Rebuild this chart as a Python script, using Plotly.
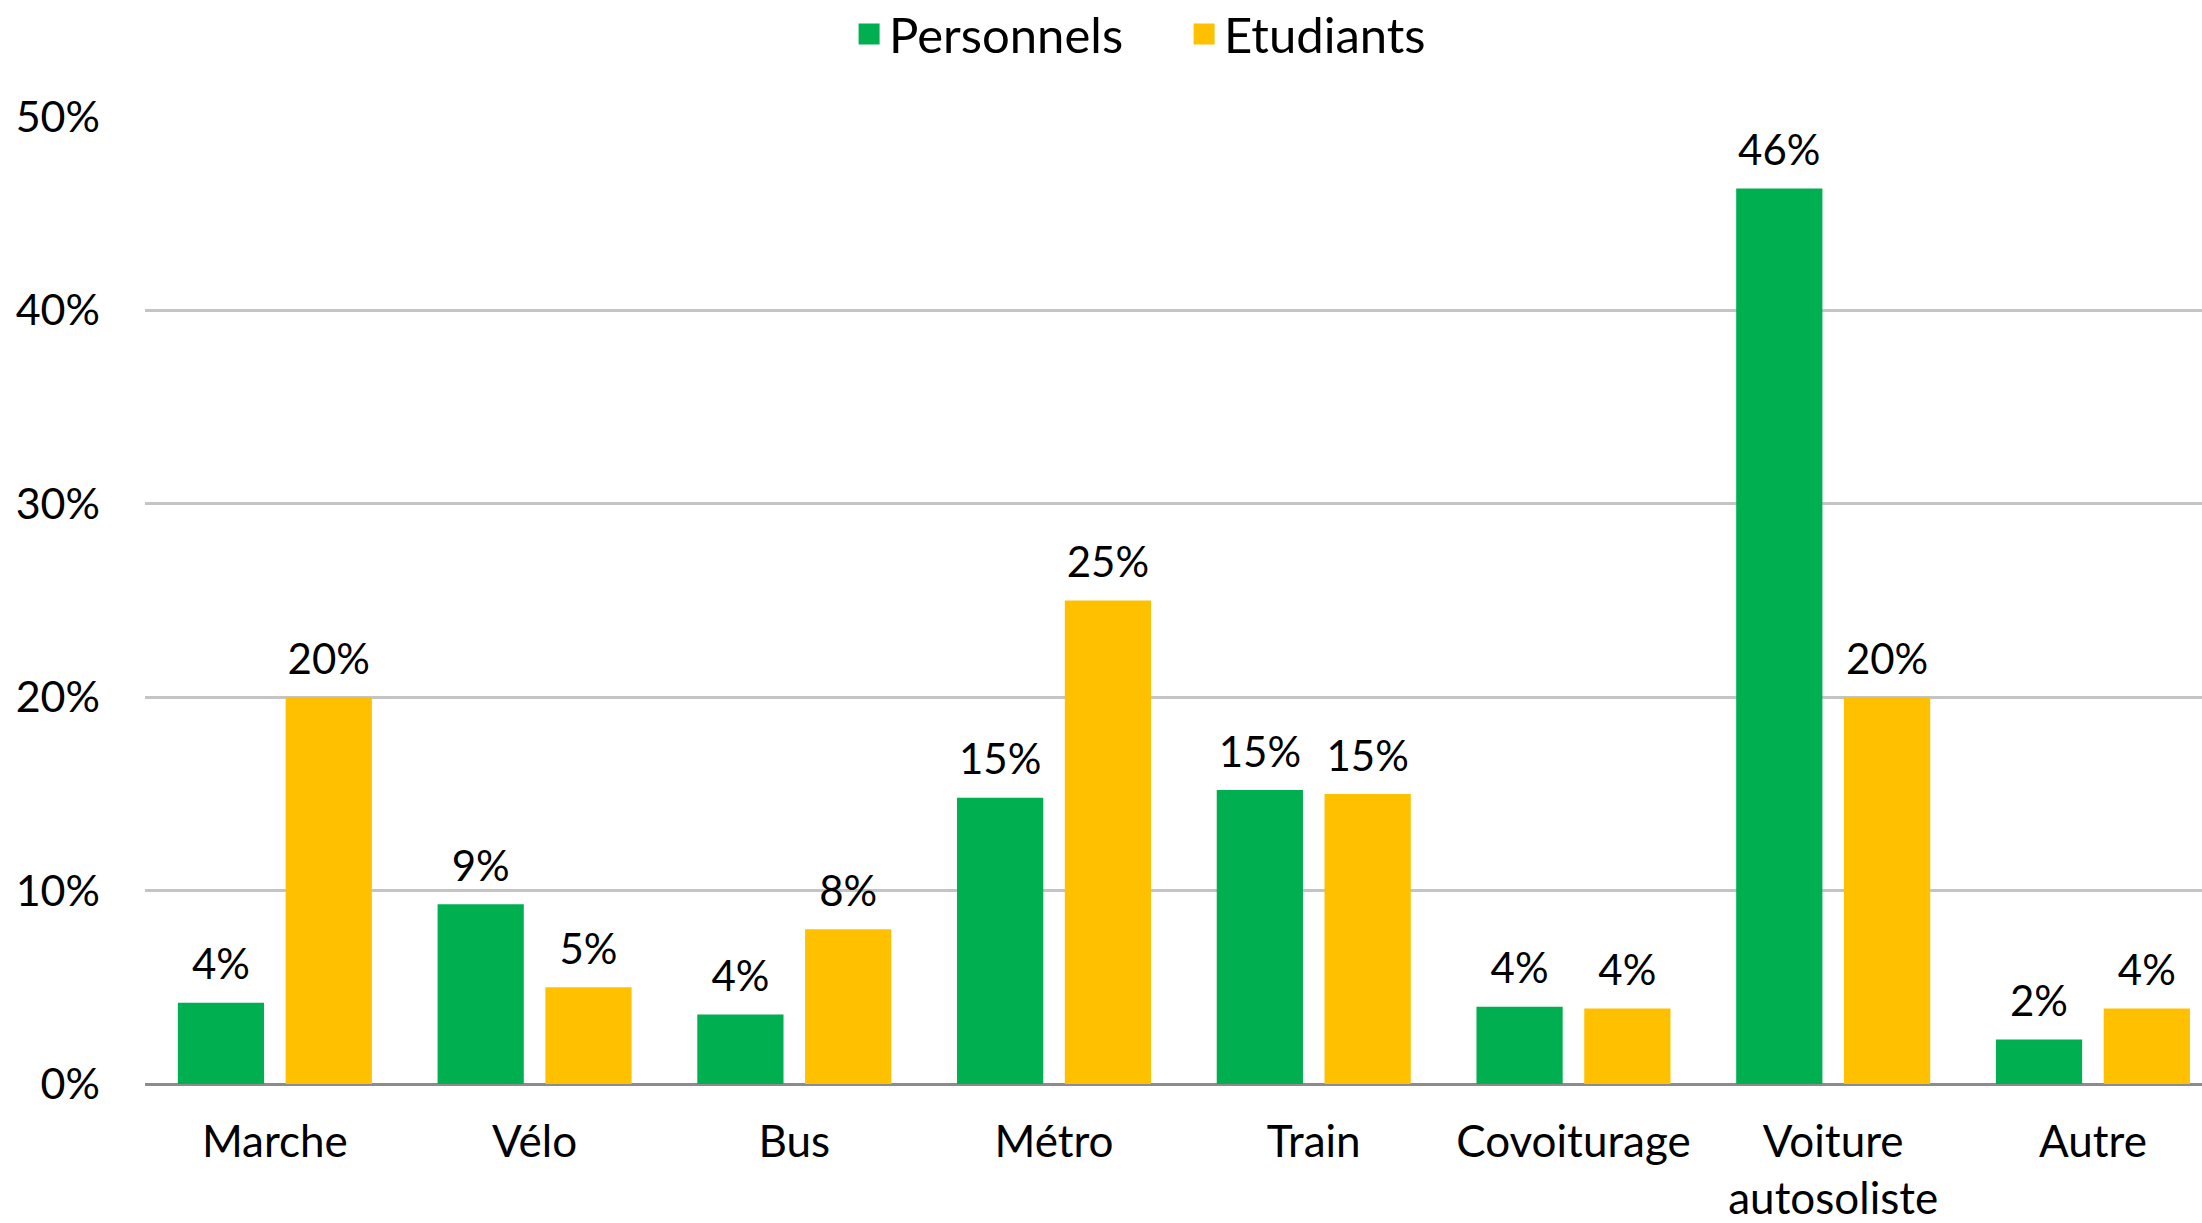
import plotly.graph_objects as go

categories = ["Marche", "Vélo", "Bus", "Métro", "Train", "Covoiturage", "Voiture<br>autosoliste", "Autre"]
personnels = [0.042, 0.093, 0.036, 0.148, 0.152, 0.040, 0.463, 0.023]
etudiants = [0.200, 0.050, 0.080, 0.250, 0.150, 0.039, 0.200, 0.039]
y_ticks = [0, 0.1, 0.2, 0.3, 0.4, 0.5]

FONT = "Lato"
GREEN = "#00B050"
YELLOW = "#FFC000"
BARGAP = 0.17

series = [("Personnels", personnels, GREEN), ("Etudiants", etudiants, YELLOW)]

fig = go.Figure()
for name, vals, col in series:
    fig.add_trace(go.Bar(
        name=name, x=categories, y=vals, offsetgroup=name,
        marker=dict(color=col, line=dict(width=0)),
        showlegend=False, hoverinfo="x+y+name",
    ))
for name, vals, col in series:
    # value labels above the bars
    fig.add_trace(go.Scatter(
        name=name, x=categories, y=vals, offsetgroup=name,
        mode="markers+text", showlegend=False, cliponaxis=False,
        marker=dict(size=19, color="rgba(0,0,0,0)"),
        texttemplate="%{y:.0%}", textposition="top center",
        textfont=dict(family=FONT, size=42, color="#000000"),
        hoverinfo="skip",
    ))
for name, vals, col in series:
    # legend entries (square swatches)
    fig.add_trace(go.Scatter(
        name=name, x=[None], y=[None], offsetgroup=name,
        mode="markers", showlegend=True,
        marker=dict(symbol="square", size=30, color=col, line=dict(color=col, width=5)),
        hoverinfo="skip",
    ))

fig.update_layout(
    width=2202, height=1223,
    margin=dict(l=145, r=0, t=117, b=139, autoexpand=False),
    plot_bgcolor="white", paper_bgcolor="white",
    barmode="group", bargap=BARGAP, bargroupgap=0.2,
    scattermode="group", scattergap=BARGAP,
    font=dict(family=FONT, size=42, color="#000000"),
    legend=dict(
        orientation="h", xref="container", yref="container",
        x=0.3856, xanchor="left", y=0.972, yanchor="middle",
        font=dict(family=FONT, size=49, color="#000000"),
        itemwidth=30, traceorder="normal", entrywidth=290,
    ),
    xaxis=dict(
        range=[-0.5, 7.42], showgrid=False, ticks="", ticklabelstandoff=28,
        showline=False, automargin=False, tickfont=dict(family=FONT, size=44),
    ),
    yaxis=dict(
        range=[0, 0.5], tickvals=y_ticks, tickformat=".0%",
        showgrid=True, gridcolor="#C4C4C4", gridwidth=2.5,
        zeroline=True, zerolinecolor="#8C8C8C", zerolinewidth=3,
        showline=False, ticks="", ticklabelstandoff=44, automargin=False,
        tickfont=dict(family=FONT, size=43),
    ),
)

fig.write_html(
    "out.html",
    config={"displayModeBar": False},
    post_script="document.body.style.margin='0';document.body.style.overflow='hidden';",
)
